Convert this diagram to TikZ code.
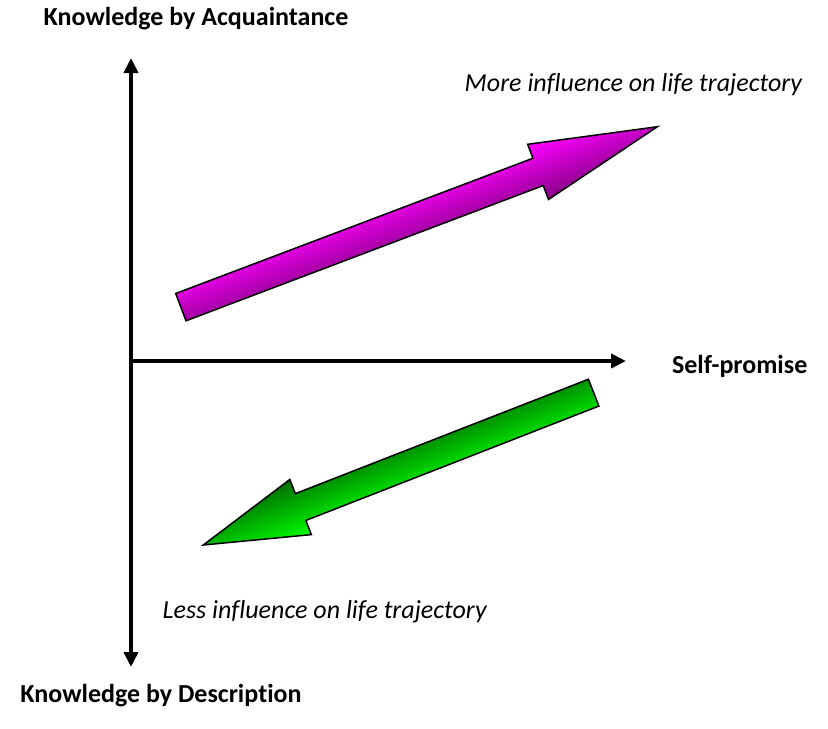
\documentclass[tikz,border=0pt]{standalone}
\usepackage{fontspec}
\setmainfont{Carlito}[Ligatures=NoCommon]
\usetikzlibrary{arrows.meta}

\definecolor{maglight}{RGB}{255,0,255}
\definecolor{magdark}{RGB}{135,0,135}
\definecolor{grnlight}{RGB}{0,255,0}
\definecolor{grndark}{RGB}{0,110,0}

\begin{document}
\begin{tikzpicture}[
  x=0.5pt, y=-0.5pt,
  axis/.style={line width=2.2pt, black,
    {Triangle[length=7.5pt,width=7pt]}-{Triangle[length=7.5pt,width=7pt]}},
  halfaxis/.style={line width=2.2pt, black, -{Triangle[length=7.5pt,width=7pt]}},
  bigarrow/.style={draw=black, line width=0.75pt, line join=miter},
  axislabel/.style={anchor=base west, inner sep=0pt, font=\fontsize{13}{15}\selectfont\bfseries},
  note/.style={anchor=base west, inner sep=0pt, font=\fontsize{13}{15}\selectfont\itshape}
]
\useasboundingbox (0,0) rectangle (828,728);

% === Axes ===
\coordinate (top) at (131,58);
\coordinate (bottom) at (131,667);
\coordinate (origin) at (129,361);
\coordinate (right) at (626,361);
\draw[axis] (bottom) -- (top);
\draw[halfaxis] (origin) -- (right);

% === Axis labels ===
\node[axislabel] (acq) at (43.3,25.7) {Knowledge by Acquaintance};
\node[axislabel] (desc) at (20,702.3) {Knowledge by Description};
\node[axislabel] (self) at (671.7,373.3) {Self-promise};

% === Magenta arrow (more influence) ===
\coordinate (magtail) at (180.85,307.15);
\begin{scope}[transform canvas={shift={(magtail)}, rotate=20.74}]
  \shade[bigarrow, top color=maglight, bottom color=magdark]
    (0,-14.6) -- (382,-14.6) -- (382,-29.5) -- (509.5,0)
    -- (382,29.5) -- (382,14.6) -- (0,14.6) -- cycle;
\end{scope}

% === Green arrow (less influence) ===
\coordinate (grntail) at (593.65,392.65);
\begin{scope}[transform canvas={shift={(grntail)}, rotate=21.32}]
  \shade[bigarrow, top color=grndark, bottom color=grnlight]
    (0,-14.4) -- (-314.6,-14.4) -- (-314.6,-29.6) -- (-419,0)
    -- (-314.6,29.6) -- (-314.6,14.4) -- (0,14.4) -- cycle;
\end{scope}

% === Influence notes ===
\node[note] (more) at (464.3,91.7) {More influence on life trajectory};
\node[note] (less) at (162.3,618.3) {Less influence on life trajectory};

\end{tikzpicture}
\end{document}
